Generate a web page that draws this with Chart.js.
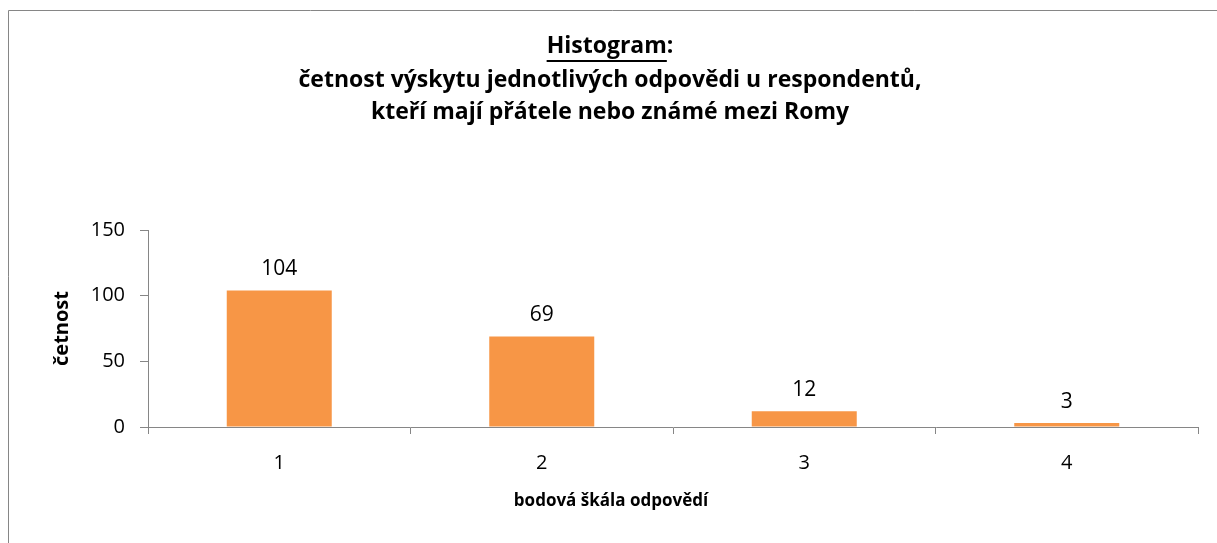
<!DOCTYPE html>
<html>
<head>
<meta charset="utf-8">
<script src="https://cdn.jsdelivr.net/npm/chart.js@4"></script>
<style>
  html, body { margin: 0; padding: 0; background: #fff; }
  #wrap { width: 1217px; height: 543px; position: relative; }
</style>
</head>
<body>
<div id="wrap"><canvas id="histChart" width="1217" height="543"></canvas></div>
<script>
/* Histogram of answer frequencies (Chart.js) */

const FONT = "'Open Sans', 'DejaVu Sans', sans-serif";
const BAR_COLOR = '#F79646';
const AXIS_COLOR = '#868686';

const categories = ['1', '2', '3', '4'];
const counts = [104, 69, 12, 3];
const yTicks = [0, 50, 100, 150];

const titleLines = [
  'četnost výskytu jednotlivých odpovědi u respondentů,',
  'kteří mají přátele nebo známé mezi Romy',
];
const xTitle = 'bodová škála odpovědí';
const yTitle = 'četnost';

// frame (left + top edge only), the title and the x axis title
const framePlugin = {
  id: 'frame',
  beforeDraw(chart) {
    const ctx = chart.ctx;
    ctx.save();
    ctx.strokeStyle = AXIS_COLOR;
    ctx.lineWidth = 1;
    ctx.beginPath();
    ctx.moveTo(8.5, chart.height);
    ctx.lineTo(8.5, 10.5);
    ctx.lineTo(chart.width, 10.5);
    ctx.stroke();
    ctx.restore();
  },
  afterDraw(chart) {
    const ctx = chart.ctx;
    const cx = 610;
    ctx.save();
    ctx.fillStyle = '#000';
    ctx.textBaseline = 'middle';
    ctx.font = 'bold 23px ' + FONT;

    // first line: "Histogram" underlined + ":"
    const word = 'Histogram';
    const wW = ctx.measureText(word).width;
    const cW = ctx.measureText(':').width;
    const x0 = cx - (wW + cW) / 2;
    ctx.textAlign = 'left';
    ctx.fillText(word, x0, 46);
    ctx.fillText(':', x0 + wW, 46);
    ctx.fillRect(x0, 60, wW, 2);

    ctx.textAlign = 'center';
    titleLines.forEach((t, i) => ctx.fillText(t, cx, 80 + i * 32));

    // x axis title
    ctx.font = 'bold 17px ' + FONT;
    ctx.fillText(xTitle, 611, 501);
    ctx.restore();
  },
};

const labelPlugin = {
  id: 'barLabels',
  afterDatasetsDraw(chart) {
    const ctx = chart.ctx;
    const meta = chart.getDatasetMeta(0);
    ctx.save();
    ctx.fillStyle = '#000';
    ctx.font = '21px ' + FONT;
    ctx.textAlign = 'center';
    ctx.textBaseline = 'bottom';
    meta.data.forEach((bar, i) => {
      ctx.fillText(String(counts[i]), bar.x, bar.y - 11);
    });
    ctx.restore();
  },
};

const ctx = document.getElementById('histChart').getContext('2d');
new Chart(ctx, {
  type: 'bar',
  data: {
    labels: categories,
    datasets: [{
      label: 'četnost',
      data: counts,
      backgroundColor: BAR_COLOR,
      borderWidth: 0,
      categoryPercentage: 0.4,
      barPercentage: 1.0,
    }],
  },
  options: {
    responsive: false,
    animation: false,
    events: [],
    layout: { padding: { top: 230, right: 19, left: 0, bottom: 0 } },
    plugins: { legend: { display: false }, tooltip: { enabled: false } },
    scales: {
      x: {
        afterFit(scale) { scale.height = 116; },
        grid: { display: true, drawOnChartArea: false, drawTicks: true, tickLength: 7, color: AXIS_COLOR, offset: true },
        border: { display: true, color: AXIS_COLOR, width: 1 },
        ticks: { color: '#000', font: { family: FONT, size: 20 }, padding: 17 },
      },
      y: {
        min: 0,
        max: 150,
        afterFit(scale) { scale.width = 148; },
        afterBuildTicks(scale) { scale.ticks = yTicks.map(v => ({ value: v })); },
        grid: { display: true, drawOnChartArea: false, drawTicks: true, tickLength: 8, color: AXIS_COLOR },
        border: { display: true, color: AXIS_COLOR, width: 1 },
        ticks: { color: '#000', font: { family: FONT, size: 20 }, padding: 15 },
        title: {
          display: true, text: yTitle, color: '#000',
          font: { family: FONT, size: 20, weight: 'bold' },
          padding: { top: 50, bottom: 0 },
        },
      },
    },
  },
  plugins: [framePlugin, labelPlugin],
});
</script>
</body>
</html>
